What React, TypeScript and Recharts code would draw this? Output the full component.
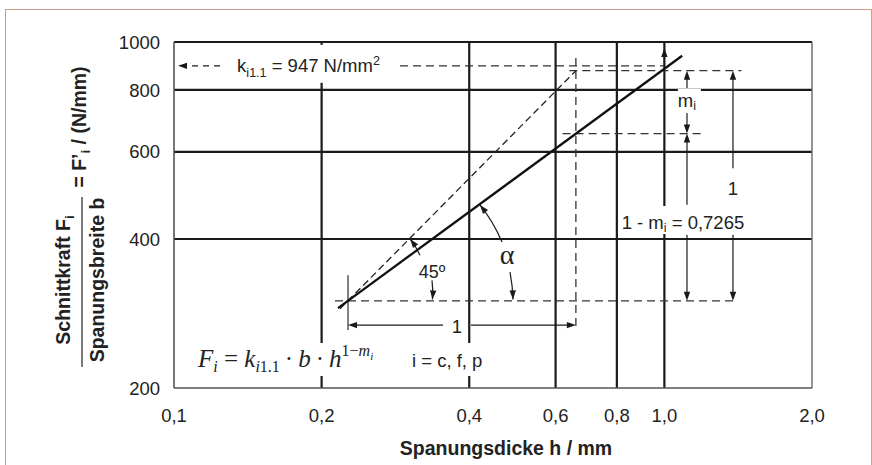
import React from 'react';
import { ComposedChart, Line, XAxis, YAxis, ReferenceLine, ReferenceDot } from 'recharts';

const FONT = "'Liberation Sans', Arial, Helvetica, sans-serif";
const SERIF = "'Liberation Serif', 'Times New Roman', serif";
const INK = '#1a1a1a';

const xTicks = [0.1, 0.2, 0.4, 0.6, 0.8, 1.0, 2.0];
const yTicks = [200, 400, 600, 800, 1000];
const xGrid = [0.2, 0.4, 0.6, 0.8, 1.0];
const yGrid = [400, 600, 800, 1000];

// cutting force per width, slope 1 - m_i on log paper
const forceLine = [
  { h: 0.216, F: 290 },
  { h: 1.087, F: 938 },
];
// 45° help line
const line45 = [
  { h: 0.218, F: 289 },
  { h: 0.66, F: 875 },
];

// dashed construction lines
const dashedSegments = [
  { h1: 0.213, F1: 300, h2: 1.406, F2: 300 },
  { h1: 0.62, F1: 653, h2: 1.199, F2: 653 },
  { h1: 0.64, F1: 875, h2: 1.436, F2: 875 },
  { h1: 0.289, F1: 895, h2: 1.0, F2: 895 },
  { h1: 0.66, F1: 928, h2: 0.66, F2: 262 },
];
const tickSegments = [{ h1: 0.2264, F1: 338, h2: 0.2264, F2: 262 }];

// dimension arrows: tail -> tip
const arrows = [
  { h1: 0.1241, F1: 895, h2: 0.1019, F2: 895, dashed: true },
  { h1: 1.0, F1: 895, h2: 1.0, F2: 973 },
  { h1: 0.3536, F1: 268, h2: 0.2264, F2: 268 },
  { h1: 0.4033, F1: 268, h2: 0.66, F2: 268 },
  { h1: 1.112, F1: 807, h2: 1.112, F2: 875 },
  { h1: 1.112, F1: 719, h2: 1.112, F2: 653 },
  { h1: 1.112, F1: 469, h2: 1.112, F2: 653 },
  { h1: 1.112, F1: 408, h2: 1.112, F2: 300 },
  { h1: 1.38, F1: 556, h2: 1.38, F2: 875 },
  { h1: 1.38, F1: 408, h2: 1.38, F2: 300 },
];

// angle arcs (start -> tip), sweep 1 = clockwise
const alphaArcs = [
  { h1: 0.4665, F1: 394.5, h2: 0.4207, F2: 468.6, sweep: 0 },
  { h1: 0.4844, F1: 343, h2: 0.4912, F2: 302, sweep: 1 },
];
const angle45Arcs = [
  { h1: 0.3174, F1: 371, h2: 0.303, F2: 400, sweep: 0 },
  { h1: 0.3358, F1: 330, h2: 0.3365, F2: 302, sweep: 1 },
];

const fmtX = (v: number) => v.toFixed(1).replace('.', ',');

function head(x: number, y: number, ang: number) {
  const L = 9, w = 3.2;
  const bx = x - L * Math.cos(ang), by = y - L * Math.sin(ang);
  const px = -Math.sin(ang) * w, py = Math.cos(ang) * w;
  return <polygon points={`${x},${y} ${bx + px},${by + py} ${bx - px},${by - py}`} fill={INK} />;
}

const arrowShape = (dashed?: boolean) => (p: any) => {
  const ang = Math.atan2(p.y2 - p.y1, p.x2 - p.x1);
  const ex = p.x2 - 7 * Math.cos(ang), ey = p.y2 - 7 * Math.sin(ang);
  return (
    <g>
      <line x1={p.x1} y1={p.y1} x2={ex} y2={ey} stroke={INK} strokeWidth={1.2}
        strokeDasharray={dashed ? '6 5' : undefined} />
      {head(p.x2, p.y2, ang)}
    </g>
  );
};

const arcShape = (r: number, sweep: number) => (p: any) => {
  const dx = p.x2 - p.x1, dy = p.y2 - p.y1;
  const d = Math.hypot(dx, dy);
  const th = Math.asin(Math.min(1, d / (2 * r)));
  const phi = Math.atan2(dy, dx);
  const ang = sweep ? phi + th : phi - th;
  return (
    <g>
      <path d={`M${p.x1},${p.y1} A${r},${r} 0 0 ${sweep} ${p.x2},${p.y2}`} fill="none" stroke={INK} strokeWidth={1.2} />
      {head(p.x2, p.y2, ang)}
    </g>
  );
};

function note(key: string, h: number, F: number, draw: (cx: number, cy: number) => React.ReactNode) {
  return (
    <ReferenceDot key={key} x={h} y={F} r={0} zIndex={2000}
      shape={(p: any) => <g>{draw(p.cx, p.cy)}</g>} />
  );
}

function Titles() {
  return (
    <svg width={872} height={465} style={{ position: 'absolute', left: 0, top: 0, pointerEvents: 'none' }}
      fontFamily={FONT} fontWeight="bold" fontSize={19.5} fill="#222">
      <text x={506} y={455} textAnchor="middle">Spanungsdicke h / mm</text>
      <text x={70} y={280} transform="rotate(-90 70 280)" textAnchor="middle">
        Schnittkraft F<tspan fontSize={13} dy={4}>i</tspan>
      </text>
      <line x1={82} y1={197} x2={82} y2={367} stroke="#333" strokeWidth={1.3} />
      <text x={104} y={280} transform="rotate(-90 104 280)" textAnchor="middle">Spanungsbreite b</text>
      <text x={86} y={127} transform="rotate(-90 86 127)" textAnchor="middle">
        = F’<tspan fontSize={13} dy={4}>i</tspan><tspan dy={-4}> / (N/mm)</tspan>
      </text>
    </svg>
  );
}

export default function App() {
  return (
    <div style={{ position: 'absolute', left: 0, top: 0, width: 872, height: 465, overflow: 'hidden', background: '#fff' }}>
      <div style={{ position: 'absolute', left: 5, top: 9, width: 865, height: 470, border: '1px solid #d39a88' }} />
      <div style={{ position: 'absolute', left: 0, top: 0 }}>
        <ComposedChart width={872} height={465} margin={{ top: 42, right: 60, left: 114, bottom: 37 }}>
          <XAxis dataKey="h" type="number" scale="log" domain={[0.1, 2]} allowDataOverflow ticks={xTicks}
            interval={0} tickFormatter={fmtX} tickLine={false} tickMargin={15} height={40}
            axisLine={{ stroke: '#555', strokeWidth: 1.6 }}
            tick={{ fontSize: 18.5, fontFamily: FONT, fill: '#222' }} />
          <YAxis type="number" scale="log" domain={[200, 1000]} allowDataOverflow ticks={yTicks}
            interval={0} tickLine={false} tickMargin={8} width={60}
            axisLine={{ stroke: '#555', strokeWidth: 1.6 }}
            tick={{ fontSize: 18.5, fontFamily: FONT, fill: '#222' }} />

          {xGrid.map((v) => (
            <ReferenceLine key={`gx${v}`} x={v} stroke={INK} strokeWidth={2.2} zIndex={100} />
          ))}
          {yGrid.map((v) => (
            <ReferenceLine key={`gy${v}`} y={v} stroke={INK} strokeWidth={2.2} zIndex={100} />
          ))}
          <ReferenceLine x={2} stroke="#666" strokeWidth={1.4} zIndex={100} />

          {dashedSegments.map((s, i) => (
            <ReferenceLine key={`d${i}`} segment={[{ x: s.h1, y: s.F1 }, { x: s.h2, y: s.F2 }]}
              stroke="#333" strokeWidth={1.3} strokeDasharray="8 5" zIndex={150} />
          ))}
          {tickSegments.map((s, i) => (
            <ReferenceLine key={`t${i}`} segment={[{ x: s.h1, y: s.F1 }, { x: s.h2, y: s.F2 }]}
              stroke={INK} strokeWidth={1.1} zIndex={150} />
          ))}
          {arrows.map((a, i) => (
            <ReferenceLine key={`a${i}`} segment={[{ x: a.h1, y: a.F1 }, { x: a.h2, y: a.F2 }]}
              stroke={INK} shape={arrowShape(a.dashed)} zIndex={160} />
          ))}
          {alphaArcs.map((a, i) => (
            <ReferenceLine key={`al${i}`} segment={[{ x: a.h1, y: a.F1 }, { x: a.h2, y: a.F2 }]}
              stroke={INK} shape={arcShape(164, a.sweep)} zIndex={160} />
          ))}
          {angle45Arcs.map((a, i) => (
            <ReferenceLine key={`an${i}`} segment={[{ x: a.h1, y: a.F1 }, { x: a.h2, y: a.F2 }]}
              stroke={INK} shape={arcShape(86, a.sweep)} zIndex={160} />
          ))}

          <Line data={line45} dataKey="F" type="linear" stroke="#222" strokeWidth={1.3}
            strokeDasharray="7 4" dot={false} isAnimationActive={false} />
          <Line data={forceLine} dataKey="F" type="linear" stroke="#111" strokeWidth={2.3}
            dot={false} isAnimationActive={false} />

          {note('k', 0.1345, 895, (cx, cy) => (
            <>
              <rect x={cx - 9} y={cy - 21} width={167} height={38} fill="#fff" />
              <text x={cx} y={cy + 6} fontFamily={FONT} fontSize={18.5} fill="#222">
                k<tspan fontSize={12.5} dy={5}>i1.1</tspan>
                <tspan dy={-5}> = 947 N/mm</tspan>
                <tspan fontSize={12.5} dy={-7}>2</tspan>
              </text>
            </>
          ))}
          {note('formula', 0.1119, 220.5, (cx, cy) => (
            <>
              <rect x={cx - 3} y={cy - 24} width={291} height={33} fill="#fff" />
              <text x={cx} y={cy} fontFamily={SERIF} fontSize={25} fill="#222">
                <tspan fontStyle="italic">F</tspan>
                <tspan fontStyle="italic" fontSize={16} dy={5}>i</tspan>
                <tspan dy={-5}> = </tspan>
                <tspan fontStyle="italic">k</tspan>
                <tspan fontStyle="italic" fontSize={16} dy={5}>i</tspan>
                <tspan fontSize={16}>1.1</tspan>
                <tspan dy={-5}>{'\u2009·\u2009'}</tspan>
                <tspan fontStyle="italic">b</tspan>
                <tspan>{'\u2009·\u2009'}</tspan>
                <tspan fontStyle="italic">h</tspan>
                <tspan fontSize={16} dy={-11}>1−</tspan>
                <tspan fontSize={16} fontStyle="italic">m</tspan>
                <tspan fontSize={11} fontStyle="italic" dy={4}>i</tspan>
              </text>
              <text x={cx + 214} y={cy} fontFamily={FONT} fontSize={18.5} fill="#222">i = c, f, p</text>
            </>
          ))}
          {note('one-h', 0.3777, 266, (cx, cy) => (
            <text x={cx} y={cy + 6.6} textAnchor="middle" fontFamily={FONT} fontSize={18.5} fill="#222">1</text>
          ))}
          {note('mi', 1.122, 756.6, (cx, cy) => (
            <>
              <rect x={cx - 11} y={cy - 13} width={23} height={24} fill="#fff" />
              <text x={cx - 2} y={cy + 5} textAnchor="middle" fontFamily={FONT} fontSize={18.5} fill="#222">
                m<tspan fontSize={12.5} dy={3}>i</tspan>
              </text>
            </>
          ))}
          {note('1-mi', 1.091, 432.8, (cx, cy) => (
            <>
              <rect x={cx - 64} y={cy - 16} width={129} height={28} fill="#fff" />
              <text x={cx} y={cy + 6.6} textAnchor="middle" fontFamily={FONT} fontSize={18.5} fill="#222">
                1 - m<tspan fontSize={12.5} dy={3}>i</tspan>
                <tspan dy={-3}> = 0,7265</tspan>
              </text>
            </>
          ))}
          {note('one-v', 1.38, 507, (cx, cy) => (
            <>
              <rect x={cx - 7} y={cy - 11} width={14} height={22} fill="#fff" />
              <text x={cx} y={cy + 6.6} textAnchor="middle" fontFamily={FONT} fontSize={18.5} fill="#222">1</text>
            </>
          ))}
          {note('alpha', 0.4776, 369.6, (cx, cy) => (
            <text x={cx} y={cy + 8} textAnchor="middle" fontFamily={SERIF} fontSize={28} fill="#222">α</text>
          ))}
          {note('45', 0.3358, 344.6, (cx, cy) => (
            <text x={cx} y={cy + 6.5} textAnchor="middle" fontFamily={FONT} fontSize={18} fill="#222">45º</text>
          ))}
        </ComposedChart>
      </div>
      <Titles />
    </div>
  );
}
